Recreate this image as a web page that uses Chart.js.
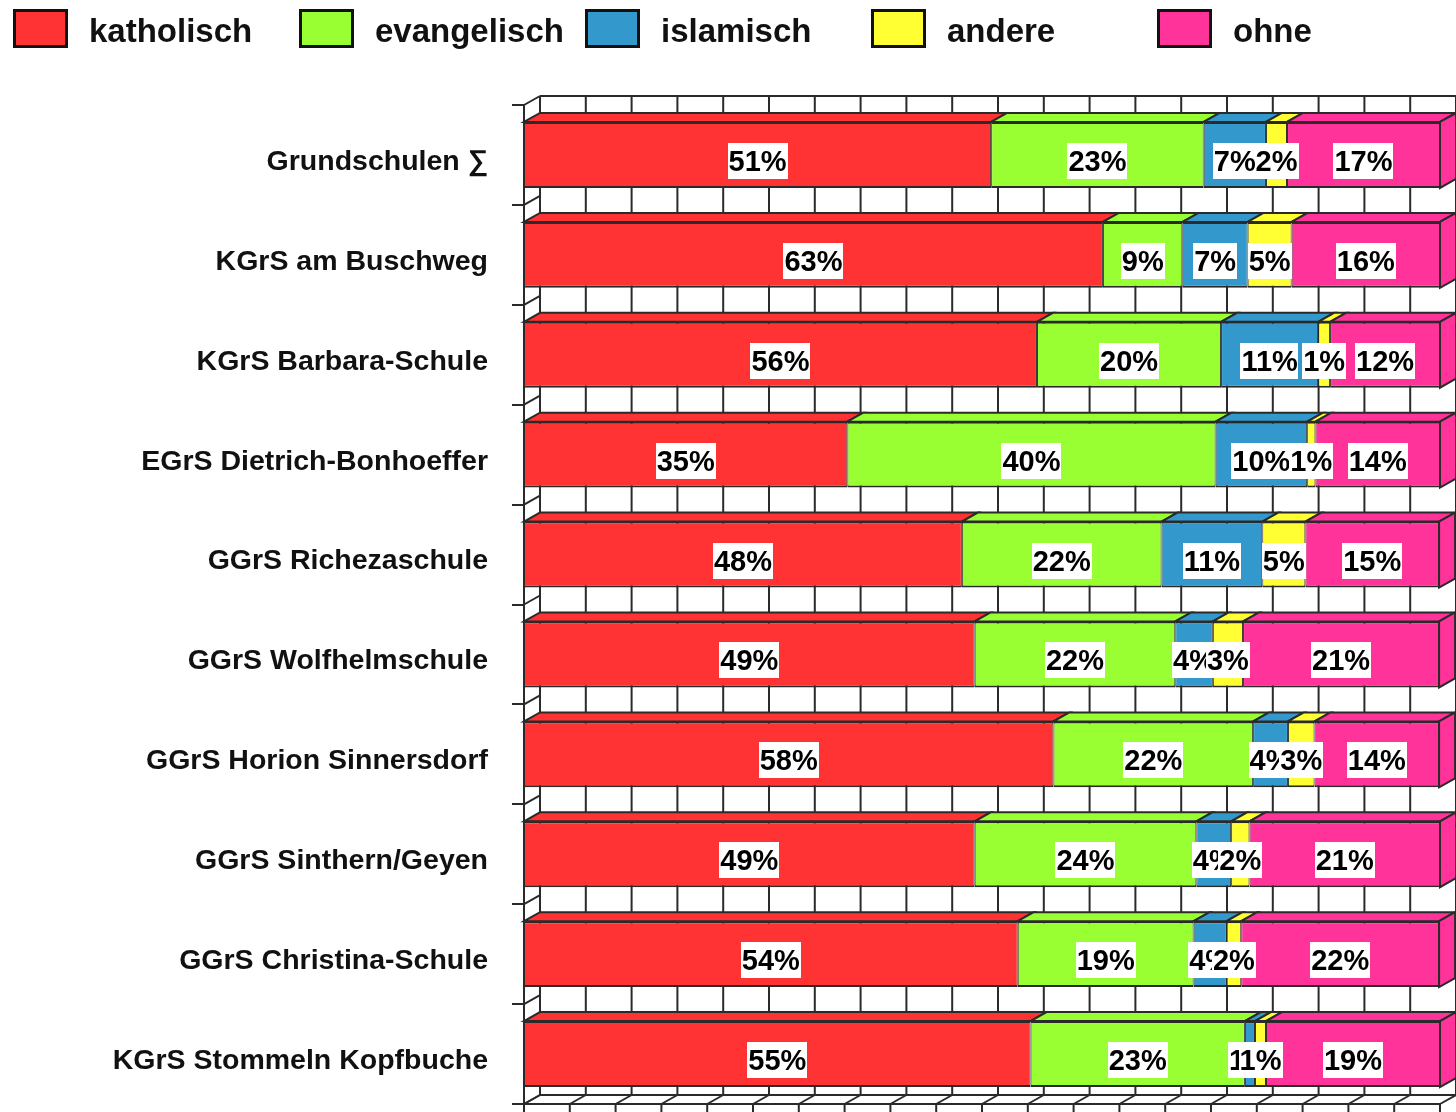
<!DOCTYPE html>
<html><head><meta charset="utf-8">
<script src="https://cdn.jsdelivr.net/npm/chart.js@4.4.1/dist/chart.umd.min.js"></script>
<style>
html,body{margin:0;padding:0;background:#fff;}
#wrap{position:relative;width:1456px;height:1112px;overflow:hidden;}
canvas{position:absolute;left:0;top:0;}
#legend{position:absolute;left:0;top:0;width:1456px;height:60px;font-family:"Liberation Sans",Arial,sans-serif;font-weight:bold;font-size:33px;color:#111;}
.item{position:absolute;top:0;height:58px;}
.sw{position:absolute;left:0;top:9px;width:49px;height:33px;border:3px solid #111;}
.lt{position:absolute;left:76px;top:11px;line-height:40px;white-space:nowrap;}
</style></head>
<body><div id="wrap"><canvas id="c" width="1456" height="1112"></canvas><div id="legend"></div></div>
<script>
const categories = ['Grundschulen \u2211','KGrS am Buschweg','KGrS Barbara-Schule','EGrS Dietrich-Bonhoeffer','GGrS Richezaschule','GGrS Wolfhelmschule','GGrS Horion Sinnersdorf','GGrS Sinthern/Geyen','GGrS Christina-Schule','KGrS Stommeln Kopfbuche'];
const seriesNames = ['katholisch','evangelisch','islamisch','andere','ohne'];
const seriesColors = ['#FF3333','#99FF33','#3399CC','#FFFF33','#FF3399'];
const katholisch  = [51.0,63.2,56.0,35.3,47.8,49.2,57.8,49.2,53.9,55.3];
const evangelisch = [23.2, 8.7,20.1,40.2,21.8,21.9,21.8,24.2,19.2,23.4];
const islamisch   = [ 6.8, 7.1,10.6,10.0,11.0, 4.1, 3.8, 3.8, 3.6, 1.1];
const andere      = [ 2.3, 4.8, 1.3, 0.9, 4.7, 3.3, 2.9, 2.0, 1.6, 1.2];
const ohne        = [16.7,16.2,12.0,13.6,14.6,21.4,13.6,20.8,21.6,19.0];
const xTicks = [0,5,10,15,20,25,30,35,40,45,50,55,60,65,70,75,80,85,90,95,100];

const FONT = '"Liberation Sans", Arial, sans-serif';
const DX = 16, DY = 9;
const LINE = '#2a2a2a';

// HTML legend
const lg = document.getElementById('legend');
seriesNames.forEach((n,i)=>{
  const d = document.createElement('div'); d.className='item'; d.style.left=(13+i*286)+'px';
  const s = document.createElement('div'); s.className='sw'; s.style.background=seriesColors[i];
  const t = document.createElement('div'); t.className='lt'; t.textContent=n;
  d.appendChild(s); d.appendChild(t); lg.appendChild(d);
});

function ln(ctx,x1,y1,x2,y2){ctx.beginPath();ctx.moveTo(x1,y1);ctx.lineTo(x2,y2);ctx.stroke();}

const threeD = {
  id:'threeD',
  beforeDatasetsDraw(chart){
    const {ctx, chartArea:a, scales:{x,y}} = chart;
    ctx.save();
    ctx.strokeStyle = LINE; ctx.lineWidth = 2;
    const right = x.getPixelForValue(100);
    xTicks.forEach(v=>{
      const px = x.getPixelForValue(v);
      ln(ctx, px+DX, a.top-DY, px+DX, a.bottom-DY);
      ln(ctx, px, a.bottom, px+DX, a.bottom-DY);
      ln(ctx, px, a.bottom, px, a.bottom+12);
    });
    ln(ctx, a.left+DX, a.top-DY, right+DX, a.top-DY);
    ln(ctx, a.left+DX, a.bottom-DY, right+DX, a.bottom-DY);
    ln(ctx, a.left, a.bottom, right, a.bottom);
    for(let i=0;i<=categories.length;i++){
      const py = y.getPixelForValue(i-0.5);
      ln(ctx, a.left, py, a.left+DX, py-DY);
    }
    ctx.restore();
  },
  afterDatasetsDraw(chart){
    const {ctx} = chart;
    ctx.save();
    ctx.strokeStyle = LINE; ctx.lineWidth = 2; ctx.lineJoin='miter';
    const n = chart.data.datasets.length;
    chart.data.datasets.forEach((ds,di)=>{
      const meta = chart.getDatasetMeta(di);
      meta.data.forEach(el=>{
        const p = el.getProps(['x','y','base','height'], true);
        const l = Math.min(p.x,p.base), r = Math.max(p.x,p.base);
        const t = p.y - p.height/2, b = p.y + p.height/2;
        ctx.fillStyle = ds.backgroundColor;
        ctx.beginPath();
        ctx.moveTo(l,t); ctx.lineTo(l+DX,t-DY); ctx.lineTo(r+DX,t-DY); ctx.lineTo(r,t); ctx.closePath();
        ctx.fill(); ctx.stroke();
        if(di===n-1){
          ctx.beginPath();
          ctx.moveTo(r,t); ctx.lineTo(r+DX,t-DY); ctx.lineTo(r+DX,b-DY); ctx.lineTo(r,b); ctx.closePath();
          ctx.fill(); ctx.stroke();
        }
      });
    });
    // value labels
    ctx.font = 'bold 29px '+FONT;
    ctx.textAlign='center'; ctx.textBaseline='middle';
    chart.data.datasets.forEach((ds,di)=>{
      const meta = chart.getDatasetMeta(di);
      meta.data.forEach((el,i)=>{
        const p = el.getProps(['x','y','base'], true);
        const cx = (p.x+p.base)/2, cy = p.y+6;
        const txt = Math.round(ds.data[i])+'%';
        const w = ctx.measureText(txt).width;
        ctx.fillStyle='#fff';
        ctx.fillRect(Math.round(cx-w/2-1), Math.round(cy-18), Math.round(w+2), 36);
        ctx.fillStyle='#000';
        ctx.fillText(txt, cx, cy+2);
      });
    });
    ctx.restore();
  }
};

const seriesData = [katholisch, evangelisch, islamisch, andere, ohne];
new Chart(document.getElementById('c'), {
  type:'bar',
  data:{
    labels: categories,
    datasets: seriesNames.map((n,i)=>({
      label:n, data:seriesData[i], backgroundColor:seriesColors[i],
      borderColor:LINE, borderWidth:{top:2,bottom:2,left:1,right:1}, borderSkipped:false,
      barPercentage:0.66, categoryPercentage:1.0
    }))
  },
  options:{
    indexAxis:'y', responsive:false, animation:false, events:[],
    layout:{padding:{top:105,right:16,bottom:8,left:0}},
    plugins:{legend:{display:false}, tooltip:{enabled:false}},
    scales:{
      x:{display:false, stacked:true, min:0, max:100},
      y:{stacked:true,
         grid:{display:true, drawOnChartArea:false, drawTicks:true, tickLength:12, color:LINE, lineWidth:2, offset:true},
         border:{display:true, color:LINE, width:2},
         ticks:{font:{family:FONT, size:28.5, weight:'bold'}, color:'#111', padding:24, autoSkip:false, labelOffset:7},
         afterFit(s){ s.width = 524; s.paddingTop = 0; s.paddingBottom = 0; }
      }
    }
  },
  plugins:[threeD]
});
</script>
</body></html>
